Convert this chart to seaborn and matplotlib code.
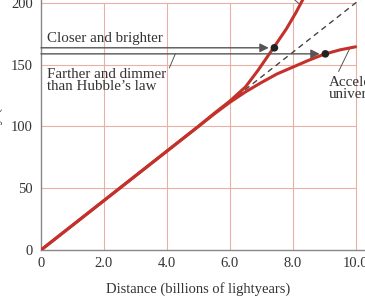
import matplotlib
matplotlib.use("Agg")
import matplotlib.pyplot as plt
import seaborn as sns

# Hubble's law (straight line, km/s per distance)
hubble_x = [0, 2.0, 4.0, 6.0, 8.0, 10.0, 10.3]
hubble_v = [0, 40, 80, 120, 160, 200, 206]

# "closer and brighter" branch
closer_x = [0, 2.0, 4.0, 5.0, 5.5, 6.0, 6.5, 6.9, 7.4, 7.8, 8.1, 8.35]
closer_v = [0, 40, 80, 100, 110.5, 120.5, 132, 145.5, 164, 179, 192, 204]

# accelerating universe branch
accel_x = [0, 2.0, 4.0, 5.0, 5.5, 6.0, 6.5, 7.0, 7.5, 8.0, 8.5, 9.0, 9.5, 10.0]
accel_v = [0, 40, 80, 100, 110, 119.5, 128, 135.5, 142.5, 148, 153.5, 158.5, 162, 164.5]

# marked supernovae and the arrows pointing at them
marker_x = [7.42, 9.04]
marker_v = [163.7, 158.8]
arrow_tip_x = [7.24, 8.86]

x_ticks = [0, 2.0, 4.0, 6.0, 8.0, 10.0]
x_tick_labels = ["0", "2.0", "4.0", "6.0", "8.0", "10.0"]
y_ticks = [0, 50, 100, 150, 200]

RED = "#c4312b"
GRID = "#eab0a8"
GREY = "#555555"
TXT = "#333333"
FS = 10.8

sns.set_style("white")
plt.rcParams["font.family"] = ["Liberation Serif", "DejaVu Serif"]

fig = plt.figure(figsize=(3.65, 2.98), dpi=100)
ax = fig.add_axes([41 / 365, 1 - 250 / 298, 1 - 41 / 365, 250 / 298])

# pinkish grid box, only up to 10 / 200
ax.vlines(x_ticks[1:], 0, 200, color=GRID, lw=0.8, zorder=0)
ax.hlines(y_ticks[1:], 0, 10, color=GRID, lw=0.8, zorder=0)

# dashed continuation of Hubble's law
h_dash = [(x, v) for x, v in zip(hubble_x, hubble_v) if x >= 6.0]
sns.lineplot(x=[p[0] for p in h_dash], y=[p[1] for p in h_dash], ax=ax,
             color="#444444", lw=1.0, linestyle=(0, (4, 3)), zorder=2)

sns.lineplot(x=accel_x, y=accel_v, ax=ax, color=RED, lw=2.2, sort=False, zorder=3)
sns.lineplot(x=closer_x, y=closer_v, ax=ax, color=RED, lw=2.2, sort=False, zorder=3)

# arrows from the axis to the observed points
for tip, v in zip(arrow_tip_x, marker_v):
    ax.annotate("", xy=(tip, v), xytext=(0, v),
                arrowprops=dict(arrowstyle="-|>", color=GREY, lw=1.0,
                                mutation_scale=13, shrinkA=0, shrinkB=0),
                zorder=4)
sns.scatterplot(x=marker_x, y=marker_v, ax=ax, color="#222222", s=30,
                edgecolor="none", zorder=5)

# labels and leader lines
ax.text(0.19, 168.5, "Closer and brighter", fontsize=FS, color=TXT,
        va="baseline")
ax.text(0.19, 147.5, "Farther and dimmer\nthan Hubble\u2019s law", fontsize=FS,
        color=TXT, va="top", linespacing=0.95)
ax.plot([4.27, 4.08], [158.8, 147.4], color=GREY, lw=0.7)
ax.text(9.14, 141, "Accelerating\nuniverse", fontsize=FS, color=TXT,
        va="top", linespacing=0.95)
ax.plot([9.84, 9.46], [164.5, 144.5], color=GREY, lw=0.7)
ax.plot([7.95, 8.2], [205, 199.5], color=GREY, lw=0.7)

ax.set_xlim(0, 10.3)
ax.set_ylim(0, 202.4)
ax.set_xticks(x_ticks)
ax.set_xticklabels(x_tick_labels)
ax.set_yticks(y_ticks)
ax.tick_params(length=0, labelsize=10.5, labelcolor=TXT)
ax.tick_params(axis="x", pad=5)
ax.tick_params(axis="y", pad=6)
for side in ["top", "right"]:
    ax.spines[side].set_visible(False)
for side in ["left", "bottom"]:
    ax.spines[side].set_color("#888888")
    ax.spines[side].set_linewidth(1.0)
ax.set_xlabel("")
ax.set_ylabel("")
fig.text((41 + 355) / 2 / 365, 1 - 289 / 298, "Distance (billions of lightyears)",
         fontsize=10.5, color=TXT, ha="center", va="center")

fig.text(3 / 365, 1 - 80 / 298, "Velocity (thousands of km/s)", rotation=90,
         ha="right", va="center", fontsize=FS, color=TXT)

fig.savefig("out.png", dpi=100)
